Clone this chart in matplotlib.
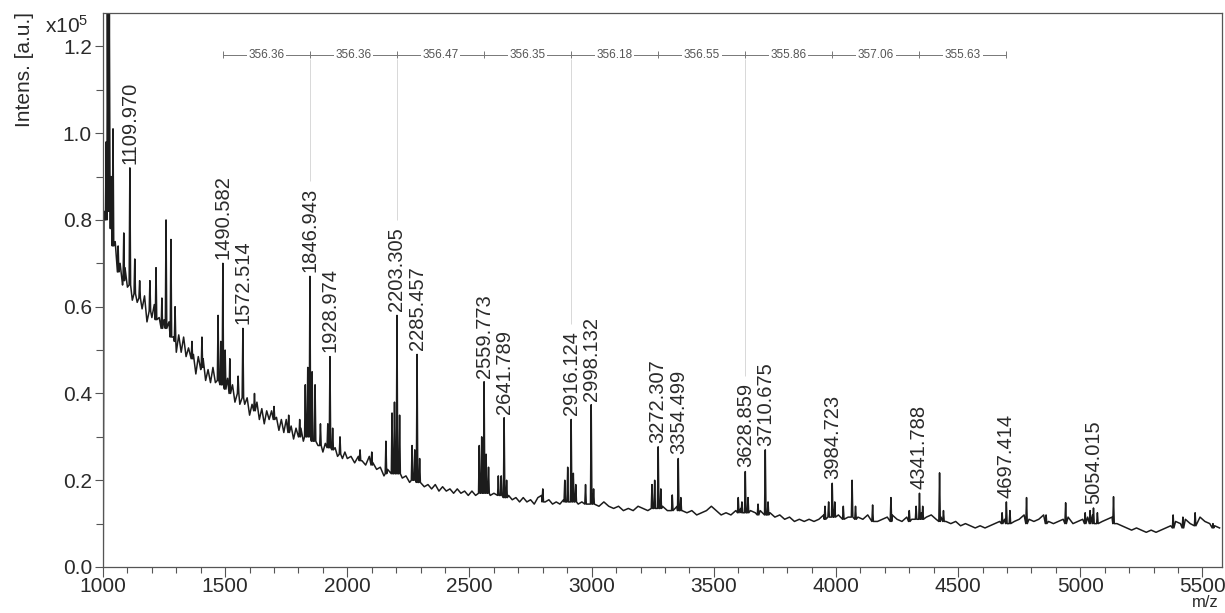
import numpy as np
import matplotlib
matplotlib.use("Agg")
import matplotlib.pyplot as plt
from matplotlib.ticker import MultipleLocator, FormatStrFormatter

plt.rcParams["font.family"] = ["Liberation Sans", "DejaVu Sans"]
plt.rcParams["mathtext.fontset"] = "custom"
plt.rcParams["mathtext.rm"] = "Liberation Sans"
plt.rcParams["mathtext.default"] = "regular"

TXT = "#2a2a2a"

# labelled peaks: m/z, apex intensity, intensity at the foot (x10^5)
label_mz = [1109.970, 1490.582, 1572.514, 1846.943, 1928.974, 2203.305, 2285.457,
            2559.773, 2641.789, 2916.124, 2998.132, 3272.307, 3354.499, 3628.859,
            3710.675, 3984.723, 4341.788, 4697.414, 5054.015]
label_top = [0.92, 0.70, 0.55, 0.67, 0.485, 0.58, 0.49, 0.427, 0.344, 0.34, 0.374,
             0.277, 0.25, 0.22, 0.27, 0.193, 0.17, 0.15, 0.136]
label_base = [0.65, 0.42, 0.39, 0.30, 0.275, 0.215, 0.195, 0.17, 0.16, 0.15, 0.145,
              0.135, 0.13, 0.125, 0.12, 0.115, 0.11, 0.10, 0.10]

# unlabelled spikes
other_mz = [1013, 1018, 1026, 1033, 1041, 1062, 1085, 1130, 1150, 1192,
            1217, 1241, 1258, 1278, 1295, 1364, 1405, 1471, 1482, 1500,
            1519, 1553, 1620, 1700, 1760, 1805, 1828, 1838, 1856, 1868,
            1890, 1920, 1940, 1970, 2052, 2100, 2158, 2183, 2193, 2214,
            2265, 2276, 2296, 2540, 2550, 2568, 2578, 2618, 2630, 2652,
            2800, 2890, 2902, 2925, 2935, 2975, 3008, 3247, 3258, 3283,
            3330, 3365, 3600, 3615, 3640, 3681, 3722, 3955, 3970, 3995,
            4030, 4066, 4080, 4150, 4225, 4300, 4328, 4355, 4424, 4440,
            4680, 4712, 4780, 4860, 4940, 5020, 5040, 5070, 5136, 5380,
            5420, 5470, 5543]
other_top = [0.98, 1.30, 1.30, 0.90, 1.01, 0.74, 0.77, 0.71, 0.66, 0.66,
             0.69, 0.62, 0.80, 0.755, 0.60, 0.52, 0.53, 0.58, 0.52, 0.50,
             0.48, 0.44, 0.40, 0.37, 0.35, 0.34, 0.42, 0.46, 0.45, 0.42,
             0.33, 0.33, 0.32, 0.30, 0.27, 0.265, 0.29, 0.355, 0.38, 0.35,
             0.28, 0.27, 0.25, 0.28, 0.30, 0.26, 0.23, 0.21, 0.21, 0.20,
             0.18, 0.20, 0.23, 0.216, 0.19, 0.19, 0.18, 0.19, 0.20, 0.18,
             0.166, 0.16, 0.16, 0.15, 0.16, 0.145, 0.15, 0.14, 0.15, 0.15,
             0.14, 0.20, 0.14, 0.143, 0.16, 0.13, 0.14, 0.14, 0.217, 0.13,
             0.125, 0.13, 0.16, 0.12, 0.148, 0.125, 0.13, 0.125, 0.162, 0.12,
             0.115, 0.125, 0.10]
other_base = [0.80, 0.82, 0.82, 0.78, 0.74, 0.68, 0.66, 0.63, 0.62, 0.59,
              0.57, 0.55, 0.55, 0.53, 0.52, 0.48, 0.46, 0.43, 0.42, 0.41,
              0.40, 0.40, 0.36, 0.34, 0.31, 0.30, 0.30, 0.30, 0.29, 0.29,
              0.28, 0.275, 0.27, 0.26, 0.245, 0.235, 0.215, 0.215, 0.215, 0.215,
              0.20, 0.20, 0.195, 0.17, 0.17, 0.17, 0.17, 0.165, 0.165, 0.16,
              0.15, 0.15, 0.15, 0.15, 0.15, 0.145, 0.145, 0.135, 0.135, 0.135,
              0.13, 0.13, 0.125, 0.125, 0.125, 0.12, 0.12, 0.11, 0.115, 0.115,
              0.11, 0.115, 0.11, 0.105, 0.105, 0.105, 0.11, 0.11, 0.105, 0.105,
              0.10, 0.10, 0.10, 0.10, 0.10, 0.10, 0.10, 0.10, 0.10, 0.09,
              0.09, 0.095, 0.09]

# noisy background, read in three stretches
lead_mz = [1001, 1004]
lead_int = [0.0, 0.82]

bg_a = [0.75, 0.68, 0.70, 0.65, 0.69, 0.645, 0.685, 0.615, 0.64, 0.61,
        0.645, 0.595, 0.625, 0.565, 0.60, 0.575, 0.605, 0.55, 0.575, 0.53,
        0.57, 0.535, 0.565, 0.51, 0.53, 0.495, 0.535, 0.495, 0.53, 0.485,
        0.505, 0.465, 0.49, 0.445, 0.485, 0.455, 0.48, 0.43, 0.455, 0.425,
        0.46, 0.425, 0.445, 0.405, 0.425, 0.405, 0.435, 0.40, 0.42, 0.38,
        0.41, 0.375, 0.405, 0.375, 0.39, 0.35, 0.375, 0.35, 0.38, 0.34,
        0.365, 0.33, 0.36, 0.34, 0.36, 0.33, 0.345, 0.315, 0.34, 0.31,
        0.34, 0.31, 0.325, 0.295, 0.32, 0.30, 0.32, 0.29, 0.305, 0.28,
        0.30, 0.28, 0.30, 0.28, 0.29, 0.265, 0.285, 0.27, 0.285, 0.26,
        0.275, 0.255, 0.275, 0.25, 0.265, 0.25]
bg_b = [0.255, 0.24, 0.255, 0.245, 0.235, 0.255, 0.24, 0.225, 0.23, 0.21,
        0.225, 0.215, 0.22, 0.215, 0.205, 0.21, 0.195, 0.205, 0.19, 0.20,
        0.185, 0.19, 0.18, 0.19, 0.175, 0.185, 0.175, 0.18, 0.17, 0.18,
        0.17, 0.175, 0.165, 0.175, 0.165, 0.175, 0.17, 0.18, 0.165, 0.17,
        0.16, 0.165, 0.155, 0.165, 0.155, 0.16, 0.15, 0.16, 0.15, 0.155,
        0.145, 0.16, 0.165, 0.15, 0.155, 0.145, 0.15, 0.145, 0.155, 0.15,
        0.16, 0.155, 0.145, 0.15, 0.14, 0.145]
bg_c = [0.145, 0.14, 0.15, 0.14, 0.135, 0.14, 0.13, 0.135, 0.13, 0.14,
        0.135, 0.13, 0.14, 0.145, 0.14, 0.13, 0.135, 0.14, 0.13, 0.125,
        0.13, 0.12, 0.125, 0.13, 0.14, 0.13, 0.12, 0.125, 0.12, 0.13,
        0.135, 0.14, 0.13, 0.125, 0.13, 0.135, 0.125, 0.115, 0.12, 0.11,
        0.115, 0.105, 0.11, 0.105, 0.11, 0.105, 0.11, 0.12, 0.125, 0.13,
        0.12, 0.125, 0.115, 0.125, 0.115, 0.11, 0.12, 0.11, 0.105, 0.11,
        0.115, 0.12, 0.11, 0.105, 0.115, 0.11, 0.12, 0.125, 0.115, 0.12,
        0.11, 0.115, 0.105, 0.10, 0.105, 0.095, 0.10, 0.095, 0.09, 0.095,
        0.09, 0.095, 0.10, 0.105, 0.11, 0.115, 0.105, 0.11, 0.12, 0.11,
        0.105, 0.11, 0.12, 0.105, 0.10, 0.105, 0.11, 0.115, 0.10, 0.105,
        0.11, 0.115, 0.12, 0.115, 0.105, 0.11, 0.115, 0.10, 0.095, 0.09,
        0.085, 0.09, 0.085, 0.08, 0.085, 0.08, 0.085, 0.09, 0.095, 0.105,
        0.10, 0.11, 0.10, 0.105, 0.115, 0.105, 0.10, 0.095, 0.09]

# repeat series and spacing labels shown in the bar
series_mz = [1490.582, 1846.943, 2203.305, 2559.773, 2916.124, 3272.307,
             3628.859, 3984.723, 4341.788, 4697.414]
gap_text = ["356.36", "356.36", "356.47", "356.35", "356.18", "356.55",
            "355.86", "357.06", "355.63"]
guide_mz = [1846.943, 2203.305, 2916.124, 3628.859]

# assemble the trace
bg_mz = np.r_[lead_mz, np.arange(1050, 2001, 10), np.arange(2015, 2991, 15),
              np.arange(3010, 5571, 20)]
bg_int = np.r_[lead_int, bg_a, bg_b, bg_c]
pk_mz = np.r_[label_mz, other_mz]
pk_top = np.r_[label_top, other_top]
pk_base = np.r_[label_base, other_base]

hw = 3.0
keep = np.abs(bg_mz[:, None] - pk_mz[None, :]).min(axis=1) > hw + 1
xs = np.r_[bg_mz[keep], pk_mz - hw, pk_mz, pk_mz + hw]
ys = np.r_[bg_int[keep], pk_base, pk_top, pk_base]
order = np.argsort(xs, kind="stable")

fig = plt.figure(figsize=(12.25, 6.13), dpi=100)
ax = fig.add_axes([103 / 1225, 1 - 567 / 613, 1119 / 1225, 554 / 613])

ax.plot(xs[order], ys[order], color="#1c1c1c", lw=1.1)

for m, t in zip(label_mz, label_top):
    ax.annotate(f"{m:.3f}", (m, t), xytext=(0, 3), textcoords="offset points",
                rotation=90, ha="center", va="bottom", fontsize=14.5, color=TXT)

# spacing bar along the top
bar_y = 1.181
ax.plot([series_mz[0], series_mz[-1]], [bar_y, bar_y], color="#777", lw=0.7)
ax.vlines(series_mz, bar_y - 0.008, bar_y + 0.008, color="#777", lw=0.7)
for a, b, s in zip(series_mz[:-1], series_mz[1:], gap_text):
    ax.text((a + b) / 2, bar_y, s, ha="center", va="center", fontsize=8.5,
            color="#555", bbox=dict(facecolor="white", edgecolor="none", pad=1.2))
for m in guide_mz:
    t = label_top[label_mz.index(m)]
    ax.vlines(m, t + 0.22, bar_y - 0.01, color="#d8d8d8", lw=0.7, zorder=0)

ax.set_xlim(1000, 5580)
ax.set_ylim(0, 1.277)
ax.xaxis.set_major_locator(MultipleLocator(500))
ax.xaxis.set_minor_locator(MultipleLocator(100))
ax.yaxis.set_major_locator(MultipleLocator(0.2))
ax.yaxis.set_minor_locator(MultipleLocator(0.1))
ax.yaxis.set_major_formatter(FormatStrFormatter("%.1f"))

for sp in ax.spines.values():
    sp.set_color("#555")
    sp.set_linewidth(0.9)
ax.tick_params(which="both", direction="out", color="#555", width=0.8,
               labelsize=15, labelcolor=TXT)
ax.tick_params(axis="x", which="major", length=7, pad=0)
ax.tick_params(axis="x", which="minor", length=4.5)
ax.tick_params(axis="y", which="major", length=6, pad=2)
ax.tick_params(axis="y", which="minor", length=5)

fig.text(25 / 1225, 1 - 12 / 613, "Intens. [a.u.]", rotation=90, fontsize=15,
         color=TXT, ha="center", va="top")
fig.text(45 / 1225, 1 - 33 / 613, r"x10$^5$", fontsize=15, color=TXT,
         va="baseline", ha="left")
fig.text(1205 / 1225, 1 - 610 / 613, "m/z", fontsize=12, color=TXT,
         ha="center", va="bottom")

fig.savefig("out.png", dpi=100)
